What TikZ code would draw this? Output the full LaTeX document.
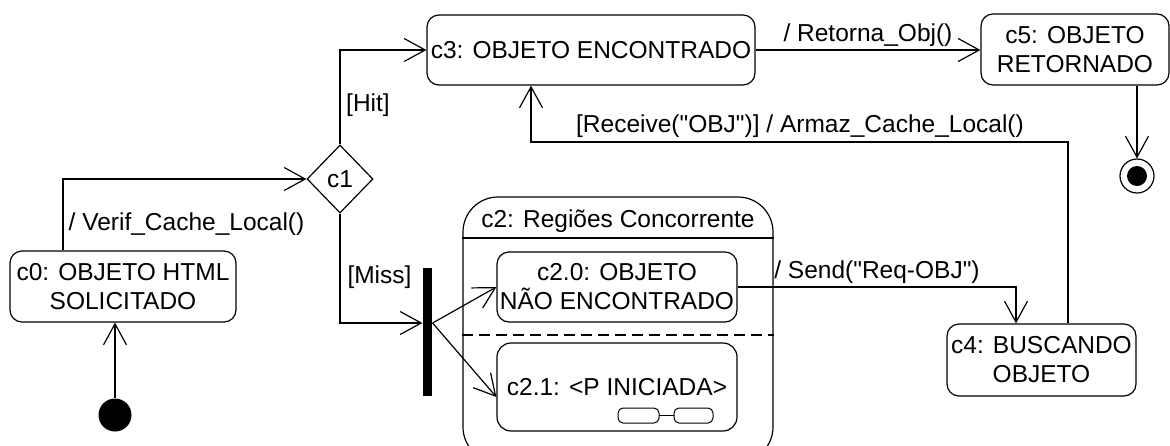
\documentclass[tikz,border=0pt]{standalone}
\usepackage{fontspec}
\setmainfont{Liberation Sans}[Ligatures=TeXOff]
\usetikzlibrary{arrows.meta,calc,shapes.geometric}
\begin{document}
\begin{tikzpicture}[x=1pt,y=-1pt,
  line width=1.2pt,
  every node/.style={font=\fontsize{24.5}{29}\selectfont, inner sep=0pt},
  st/.style={draw, rounded corners=12pt, align=center},
  tr/.style={-{Straight Barb[length=21pt,width=23pt]}},
  divider/.style={line width=1.2pt},
  dashdiv/.style={dash pattern=on 11pt off 6pt},
]
\useasboundingbox (0,0) rectangle (1170,445);

% states
\node[st, minimum width=226pt, minimum height=71pt] (c0) at (123,286.5) {c0: OBJETO HTML\\SOLICITADO};
\node[draw, diamond, aspect=1, minimum width=66pt, minimum height=68pt] (c1) at (340,179) {c1};
\node[st, minimum width=328pt, minimum height=70pt] (c3) at (591,50) {c3: OBJETO ENCONTRADO};
\node[st, minimum width=188pt, minimum height=71pt] (c5) at (1075,49.5) {c5: OBJETO\\RETORNADO};
\node[st, minimum width=189pt, minimum height=72pt] (c4) at (1041.5,360) {c4: BUSCANDO\\OBJETO};

% composite state with two concurrent regions
\node[draw, rounded corners=35pt, minimum width=310pt, minimum height=265pt] (c2) at (618,329.5) {};
\node (c2t) at (618,221) {c2: Regiões Concorrente};
\coordinate (hdr) at (0,238);
\coordinate (dsh) at (0,335);
\draw[divider] (c2.west |- hdr) -- (c2.east |- hdr);
\draw[dashdiv] (c2.west |- dsh) -- (c2.east |- dsh);
\node[st, minimum width=240pt, minimum height=70pt] (c20) at (617,287) {c2.0: OBJETO\\NÃO ENCONTRADO};
\node[st, rounded corners=14pt, minimum width=240pt, minimum height=88pt] (c21) at (617,387) {c2.1: <P INICIADA>};
% submachine glyph
\draw[rounded corners=5pt, line width=1pt] (618,408) rectangle (659,423) (674,408) rectangle (713,423);
\draw[line width=1pt] (659,415.5) -- (674,415.5);

% pseudostates
\node[circle, fill, minimum size=33pt] (init) at (115,415) {};
\node[circle, draw, minimum size=34pt] (fin) at (1137,176) {};
\node[circle, fill, minimum size=20pt] (finin) at (fin) {};
\node[fill, minimum width=9pt, minimum height=128pt] (fork) at (427.5,332) {};

% transitions
\draw[tr] (init) -- (init |- c0.south);
\draw[tr] ([xshift=-60pt]c0.north) |- (c1.west);
\draw[tr] (c1.north) |- (c3.west);
\draw[tr] (c3.east) -- (c3.east -| c5.west);
\draw[tr] (fin |- c5.south) -- (fin);
\draw[tr] (c1.south) |- ([yshift=9pt]fork.west);
\coordinate (fk) at ([yshift=9pt]fork.east);
\draw[tr] (fk) -- (c20.west);
\draw[tr] (fk) -- ([yshift=-10pt]c21.west);
\draw[tr] (c20.east) -| ([xshift=-25.5pt]c4.north);
\coordinate (rb) at (531,142);
\draw[tr] ([xshift=26.5pt]c4.north) |- (rb) -- (rb |- c3.south);

% transition labels
\node (l1) at (186.5,224) {/ Verif\_Cache\_Local()};
\node (l2) at (368,105) {[Hit]};
\node (l3) at (379.5,277) {[Miss]};
\node (l4) at (868,35) {/ Retorna\_Obj()};
\node (l5) at (800,126) {[Receive("OBJ")] / Armaz\_Cache\_Local()};
\node (l6) at (877,272) {/ Send("Req-OBJ")};
\end{tikzpicture}
\end{document}
